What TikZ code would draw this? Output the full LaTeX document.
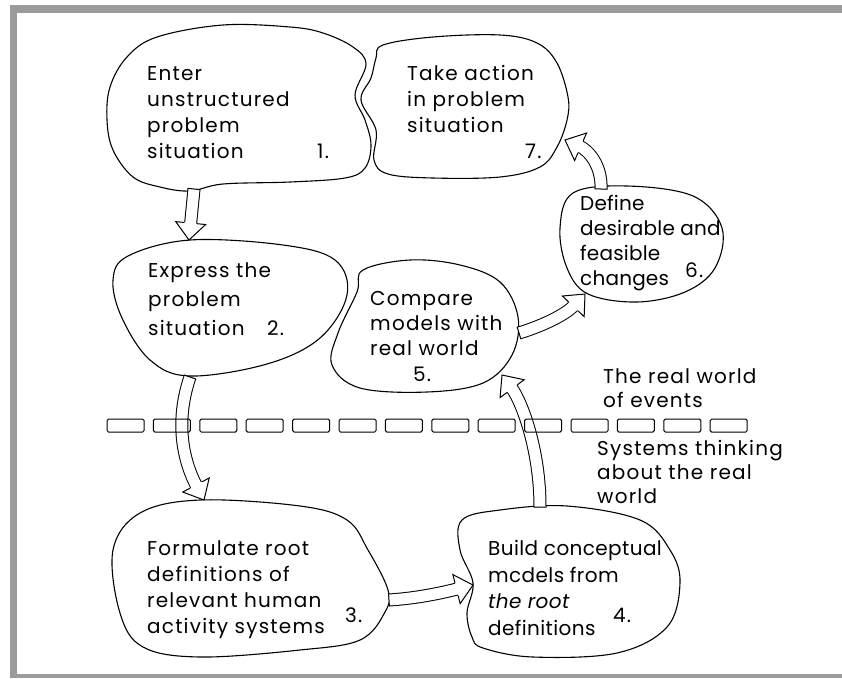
\documentclass[tikz,border=0pt]{standalone}
\usepackage{fontspec}
\setmainfont{Poppins}[LetterSpace=6]
\usetikzlibrary{decorations.markings, positioning, calc}

\definecolor{framegray}{HTML}{9B9B9B}

\tikzset{
    blob/.style={draw=black, line width=1.1pt, line join=round},
    steptext/.style={anchor=base west, inner sep=0pt, align=left, font=\fontsize{20}{26}\selectfont},
    stepnum/.style={anchor=base west, inner sep=0pt, font=\fontsize{20}{26}\selectfont},
    fatarrow/.style={
        draw=black, line width=1pt, double=white, double distance=11pt,
        shorten >=16pt,
        postaction={decorate},
        decoration={markings,
            mark=at position 0 with {\draw[line width=1pt, shorten >=0pt] (0pt,-6.5pt) -- (0pt,6.5pt);},
            mark=at position 0.9999 with {\draw[line width=1pt, shorten >=0pt, fill=white, line join=miter]
                (-17pt,6.5pt) -- (-17pt,15pt) -- (0pt,0pt) -- (-17pt,-15pt) -- (-17pt,-6.5pt);}
        }
    },
    dashbox/.style={draw=black, line width=1pt, rounded corners=1.5pt}
}

\begin{document}
\begin{tikzpicture}[x=1pt, y=-1pt]
\useasboundingbox (0,0) rectangle (842,678);
\fill[framegray] (10,5) rectangle (842,13);
\fill[framegray] (10,5) rectangle (17,678);
\fill[framegray] (10,674) rectangle (842,678);

% outlines of the seven stages
\draw[blob] plot[smooth cycle, tension=0.6] coordinates {
    (223,25) (290,27) (323,33) (353,47) (366,64) (355,95) (365,120) (371,145)
    (365,168) (345,178) (290,182) (223,184) (190,191) (160,187) (133,177)
    (113,150) (107,120) (110,87) (127,57) (157,37)};
\draw[blob] plot[smooth cycle, tension=0.6] coordinates {
    (383,45) (433,37) (500,35) (537,43) (557,63) (568,97) (567,120) (557,147)
    (540,167) (500,177) (433,178) (388,174) (374,160) (376,130) (361,100)
    (371,78) (376,58)};
\draw[blob] plot[smooth cycle, tension=0.6] coordinates {
    (190,240) (283,245) (335,260) (347,295) (320,338) (267,364) (190,376)
    (150,360) (122,318) (113,280) (128,256)};
\draw[blob] plot[smooth cycle, tension=0.6] coordinates {
    (200,500) (300,506) (347,520) (368,550) (388,590) (385,612) (360,640)
    (300,650) (200,657) (143,647) (120,613) (113,550) (140,513)};
\draw[blob] plot[smooth cycle, tension=0.6] coordinates {
    (500,510) (567,506) (640,520) (670,550) (680,583) (667,627) (617,653)
    (533,657) (483,648) (472,637) (467,613) (473,583) (460,550) (462,520)};
\draw[blob] plot[smooth cycle, tension=0.6] coordinates {
    (363,270) (410,260) (460,265) (500,282) (518,317) (512,355) (483,383)
    (427,392) (360,388) (332,365) (338,333) (357,292)};
\draw[blob] plot[smooth cycle, tension=0.6] coordinates {
    (573,193) (627,186) (693,196) (722,228) (715,268) (685,292) (637,302)
    (588,294) (567,268) (560,228)};

% texts, placed by the baseline of their last line
\node[steptext] (s1) at (147,158) {Enter\\unstructured\\problem\\situation};
\node[stepnum] (n1) at (317,158) {1.};
\node[steptext] (s7) at (407,132) {Take action\\in problem\\situation};
\node[stepnum] (n7) at (525,158) {7.};
\node[steptext, font=\fontsize{20}{29}\selectfont] (s2) at (148,335) {Express the\\problem\\situation};
\node[stepnum] (n2) at (267,335) {2.};
\node[steptext, font=\fontsize{20}{25}\selectfont] (s5) at (370,355) {Compare\\models with\\real world};
\node[stepnum] (n5) at (413,381) {5.};
\node[steptext, font=\fontsize{20}{25}\selectfont\addfontfeature{LetterSpace=1}] (s6) at (580,285) {Define\\desirable and\\feasible\\changes};
\node[stepnum] (n6) at (685,277) {6.};
\node[steptext] (s3) at (147,633) {Formulate root\\definitions of\\relevant human\\activity systems};
\node[stepnum] (n3) at (345,622) {3.};
\node[steptext, font=\fontsize{20}{26.5}\selectfont\addfontfeature{LetterSpace=2}] (s4) at (488,635) {Build conceptual\\mcdels from\\\textit{the root}\\definitions};
\node[stepnum] (n4) at (613,622) {4.};
\node[steptext, font=\fontsize{20}{24}\selectfont] (real) at (603,407) {The real world\\of events};
\node[steptext, font=\fontsize{20}{24}\selectfont] (sys) at (597,503) {Systems thinking\\about the real\\world};

% ends of the connectors on the outlines
\coordinate (b1-out) at (194,189);
\coordinate (b2-in) at (189,240);
\coordinate (b2-out) at (190,377);
\coordinate (b3-in) at (204,500);
\coordinate (b3-out) at (389,600);
\coordinate (b4-in) at (473,585);
\coordinate (b4-out) at (540,507);
\coordinate (b5-in) at (502,375);
\coordinate (b5-out) at (519,333);
\coordinate (b6-in) at (585,294);
\coordinate (b6-out) at (601,189);
\coordinate (b7-in) at (565,140);

\draw[fatarrow] (b1-out) -- (b2-in);
\draw[fatarrow] (b2-out) .. controls (172,430) and (188,470) .. (b3-in);
\draw[fatarrow] (b3-out) .. controls (420,598) and (445,592) .. (b4-in);
\draw[fatarrow] (b4-out) .. controls (540,450) and (522,402) .. (b5-in);
\draw[fatarrow] (b5-out) .. controls (545,325) and (566,314) .. (b6-in);
\draw[fatarrow] (b6-out) .. controls (602,165) and (588,150) .. (b7-in);

% boundary between the two worlds
\foreach \i in {0,...,13}
    \draw[dashbox] ({107+46.4*\i},419) rectangle ++(37,13);
\end{tikzpicture}
\end{document}
